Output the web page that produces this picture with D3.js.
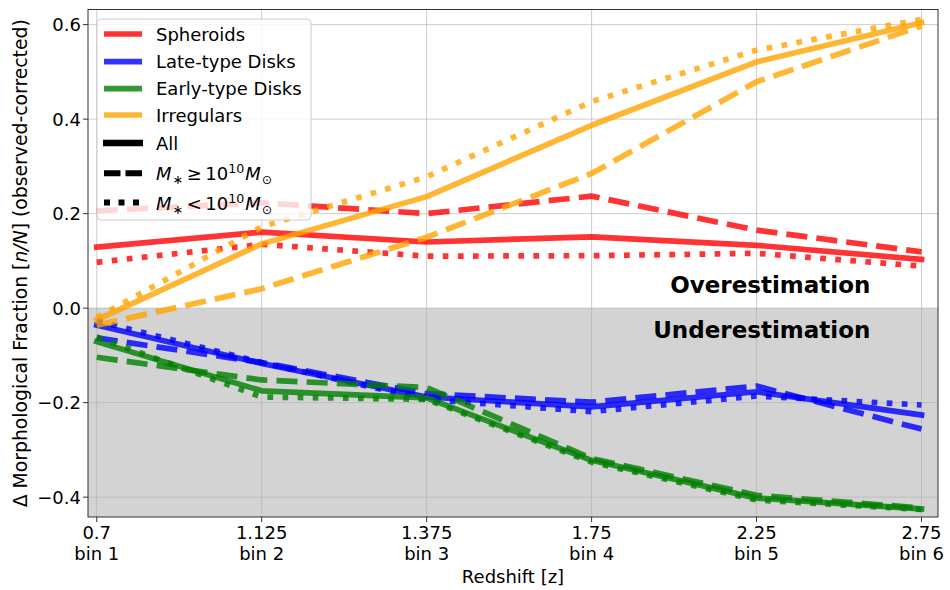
<!DOCTYPE html>
<html>
<head>
<meta charset="utf-8">
<script src="https://cdn.jsdelivr.net/npm/d3@7"></script>
<style>
  html, body { margin: 0; padding: 0; background: #fff; }
  svg { display: block; font-family: "DejaVu Sans", sans-serif; }
</style>
</head>
<body>
<svg id="chart" width="950" height="590"></svg>
<script>
// Redshift bins (categorical positions along the x axis)
const redshifts = ["0.7", "1.125", "1.375", "1.75", "2.25", "2.75"];
const binNames = ["bin 1", "bin 2", "bin 3", "bin 4", "bin 5", "bin 6"];
const yTicks = [-0.4, -0.2, 0.0, 0.2, 0.4, 0.6];

// Δ morphological fraction per bin: all galaxies, high-mass, low-mass
const spheroidsAll  = [0.129, 0.161, 0.140, 0.151, 0.133, 0.103];
const spheroidsHigh = [0.206, 0.223, 0.200, 0.237, 0.165, 0.119];
const spheroidsLow  = [0.097, 0.135, 0.110, 0.111, 0.116, 0.089];

const lateAll  = [-0.036, -0.117, -0.188, -0.209, -0.177, -0.226];
const lateHigh = [-0.063, -0.115, -0.181, -0.199, -0.165, -0.256];
const lateLow  = [-0.027, -0.115, -0.193, -0.219, -0.186, -0.205];

const earlyAll  = [-0.071, -0.175, -0.190, -0.322, -0.402, -0.425];
const earlyHigh = [-0.104, -0.152, -0.168, -0.318, -0.396, -0.423];
const earlyLow  = [-0.061, -0.188, -0.193, -0.326, -0.406, -0.426];

const irrAll  = [-0.025, 0.136, 0.236, 0.387, 0.521, 0.604];
const irrHigh = [-0.036, 0.041, 0.150, 0.285, 0.479, 0.597];
const irrLow  = [-0.020, 0.172, 0.278, 0.437, 0.546, 0.611];

const morphNames  = ["Spheroids", "Late-type Disks", "Early-type Disks", "Irregulars"];
const morphColors = ["#ff0000", "#0000ff", "#008000", "#ffa500"];
const morphSeries = [
  [spheroidsAll, spheroidsHigh, spheroidsLow],
  [lateAll, lateHigh, lateLow],
  [earlyAll, earlyHigh, earlyLow],
  [irrAll, irrHigh, irrLow]
];

const svg = d3.select("#chart");
const margin = { left: 88, right: 12, top: 9.5, bottom: 73 };
const W = 950, H = 590;
const x0 = margin.left, x1 = W - margin.right;
const y0 = margin.top, y1 = H - margin.bottom;

const x = d3.scaleLinear().domain([-0.053, 5.1]).range([x0, x1]);
const y = d3.scaleLinear().domain([-0.442, 0.632]).range([y1, y0]);

const LW = 5.7;
const styles = [
  { dash: null, cap: "square" },
  { dash: [3.7 * LW, 1.6 * LW].join(" "), cap: "butt" },
  { dash: [1 * LW, 1.65 * LW].join(" "), cap: "butt" }
];

svg.append("defs").append("clipPath").attr("id", "plotclip")
  .append("rect").attr("x", x0).attr("y", y0).attr("width", x1 - x0).attr("height", y1 - y0);

// shaded "underestimation" region below zero
svg.append("rect")
  .attr("x", x0).attr("y", y(0))
  .attr("width", x1 - x0).attr("height", y1 - y(0))
  .attr("fill", "#d3d3d3");

// grid
const grid = svg.append("g");
grid.selectAll("line.gx").data(d3.range(redshifts.length)).join("line")
  .attr("x1", d => x(d)).attr("x2", d => x(d))
  .attr("y1", y0).attr("y2", y1)
  .attr("stroke", "#b0b0b0").attr("stroke-width", 0.8).attr("stroke-opacity", 0.8);
grid.selectAll("line.gy").data(yTicks).join("line")
  .attr("x1", x0).attr("x2", x1)
  .attr("y1", d => y(d)).attr("y2", d => y(d))
  .attr("stroke", "#b0b0b0").attr("stroke-width", 0.8).attr("stroke-opacity", 0.8);

// series lines
const line = d3.line().x((d, i) => x(i)).y(d => y(d));
const plot = svg.append("g").attr("clip-path", "url(#plotclip)");
morphSeries.forEach((group, m) => {
  group.forEach((vals, s) => {
    plot.append("path")
      .attr("d", line(vals))
      .attr("fill", "none")
      .attr("stroke", morphColors[m])
      .attr("stroke-opacity", 0.8)
      .attr("stroke-width", LW)
      .attr("stroke-linejoin", "round")
      .attr("stroke-linecap", styles[s].cap)
      .attr("stroke-dasharray", styles[s].dash);
  });
});

// region annotations
svg.append("text").attr("x", x(4.69)).attr("y", y(0.033))
  .attr("text-anchor", "end").attr("font-size", 23).attr("font-weight", "bold")
  .text("Overestimation");
svg.append("text").attr("x", x(4.69)).attr("y", y(-0.063))
  .attr("text-anchor", "end").attr("font-size", 23).attr("font-weight", "bold")
  .text("Underestimation");

// spines
svg.append("rect").attr("x", x0).attr("y", y0).attr("width", x1 - x0).attr("height", y1 - y0)
  .attr("fill", "none").attr("stroke", "#333").attr("stroke-width", 1);

// x axis ticks (two-line labels)
const xt = svg.append("g");
d3.range(redshifts.length).forEach(i => {
  xt.append("line").attr("x1", x(i)).attr("x2", x(i)).attr("y1", y1).attr("y2", y1 + 5)
    .attr("stroke", "#333").attr("stroke-width", 1);
  const t = xt.append("text").attr("text-anchor", "middle").attr("font-size", 18);
  t.append("tspan").attr("x", x(i)).attr("y", y1 + 22).text(redshifts[i]);
  t.append("tspan").attr("x", x(i)).attr("y", y1 + 43).text(binNames[i]);
});

// y axis ticks
const fmt = d => (d < 0 ? "\u2212" : "") + Math.abs(d).toFixed(1);
const yt = svg.append("g");
yTicks.forEach(v => {
  yt.append("line").attr("x1", x0 - 5).attr("x2", x0).attr("y1", y(v)).attr("y2", y(v))
    .attr("stroke", "#333").attr("stroke-width", 1);
  yt.append("text").attr("x", x0 - 7).attr("y", y(v)).attr("dy", "0.36em")
    .attr("text-anchor", "end").attr("font-size", 18).text(fmt(v));
});

// axis titles
svg.append("text").attr("x", (x0 + x1) / 2).attr("y", 583)
  .attr("text-anchor", "middle").attr("font-size", 18).text("Redshift [z]");
const yl = svg.append("text")
  .attr("transform", `translate(27,${(y0 + y1) / 2}) rotate(-90)`)
  .attr("text-anchor", "middle").attr("font-size", 18.8);
yl.append("tspan").text("\u0394 Morphological Fraction [");
yl.append("tspan").attr("font-style", "italic").text("n/N");
yl.append("tspan").text("] (observed-corrected)");

// legend
const lg = svg.append("g");
lg.append("rect").attr("x", 97).attr("y", 19).attr("width", 214).attr("height", 201).attr("rx", 4)
  .attr("fill", "#fff").attr("fill-opacity", 0.8).attr("stroke", "#cccccc").attr("stroke-width", 1);
const rowY = [34, 61.7, 88.7, 115, 143, 173.3, 202.5];
const hx0 = 104, hx1 = 142, tx = 156;
morphNames.forEach((name, i) => {
  lg.append("line").attr("x1", hx0).attr("x2", hx1).attr("y1", rowY[i]).attr("y2", rowY[i])
    .attr("stroke", morphColors[i]).attr("stroke-opacity", 0.8).attr("stroke-width", LW);
  lg.append("text").attr("x", tx).attr("y", rowY[i] + 6.5).attr("font-size", 18).text(name);
});
// line-style entries
lg.append("line").attr("x1", hx0 - 1).attr("x2", hx1 + 1).attr("y1", rowY[4]).attr("y2", rowY[4])
  .attr("stroke", "#000").attr("stroke-width", 6.5);
lg.append("text").attr("x", tx).attr("y", rowY[4] + 6.5).attr("font-size", 18).text("All");
lg.append("line").attr("x1", hx0).attr("x2", hx1).attr("y1", rowY[5]).attr("y2", rowY[5])
  .attr("stroke", "#000").attr("stroke-width", 6).attr("stroke-dasharray", "16.5 5");
lg.append("line").attr("x1", hx0).attr("x2", hx1).attr("y1", rowY[6]).attr("y2", rowY[6])
  .attr("stroke", "#000").attr("stroke-width", 6).attr("stroke-dasharray", "6 8.5");

function massLabel(yPos, rel) {
  const t = lg.append("text").attr("x", tx).attr("y", yPos).attr("font-size", 18);
  t.append("tspan").attr("font-style", "italic").text("M");
  t.append("tspan").attr("font-size", 12.6).attr("dy", 4).attr("dx", 1).text("\u2217");
  t.append("tspan").attr("dy", -4).text("\u2009" + rel + "\u200910");
  t.append("tspan").attr("font-size", 12.6).attr("dy", -7).text("10");
  t.append("tspan").attr("font-style", "italic").attr("dy", 7).attr("dx", 1).text("M");
  t.append("tspan").attr("font-size", 12.6).attr("dy", 4).attr("dx", 1).text("\u2299");
}
massLabel(rowY[5] + 6.2, "\u2265");
massLabel(rowY[6] + 7.5, "<");
</script>
</body>
</html>
